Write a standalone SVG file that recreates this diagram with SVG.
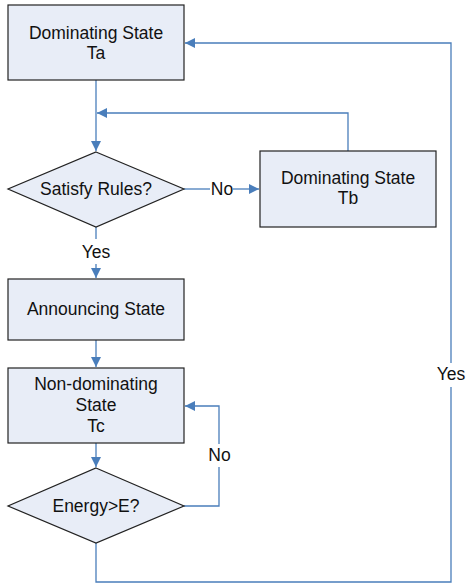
<svg xmlns="http://www.w3.org/2000/svg" width="466" height="587" viewBox="0 0 466 587">
<style>
.box{fill:#e8edf7;stroke:#222;stroke-width:1.2}
.t{font-family:"Liberation Sans",Arial,sans-serif;font-size:17.5px;fill:#111;text-anchor:middle}
.c{fill:none;stroke:#4a7ebb;stroke-width:1.3}
</style>
<defs>
<marker id="ah" markerUnits="userSpaceOnUse" markerWidth="12" markerHeight="12" viewBox="0 0 12 12" refX="11" refY="6" orient="auto">
<path d="M1,1 L11,6 L1,11 Z" fill="#4a7ebb"/>
</marker>
</defs>
<g id="connectors">
<path class="c" d="M96,80 V151" marker-end="url(#ah)"/>
<path class="c" d="M348,151 V113 H97" marker-end="url(#ah)"/>
<path class="c" d="M184,189 H210"/>
<path class="c" d="M233,189 H259" marker-end="url(#ah)"/>
<path class="c" d="M96,227 V239"/>
<path class="c" d="M96,264 V278" marker-end="url(#ah)"/>
<path class="c" d="M96,340 V367" marker-end="url(#ah)"/>
<path class="c" d="M96,443 V467" marker-end="url(#ah)"/>
<path class="c" d="M184,506 H219 V467"/>
<path class="c" d="M219,444 V406 H185" marker-end="url(#ah)"/>
<path class="c" d="M96,543 V582 H451 V387"/>
<path class="c" d="M451,363 V43 H185" marker-end="url(#ah)"/>
<text class="t" x="222" y="195">No</text>
<text class="t" x="96" y="258">Yes</text>
<text class="t" x="219.5" y="461">No</text>
<text class="t" x="451" y="380">Yes</text>
</g>
<g id="ta">
<rect class="box" x="8" y="5" width="176" height="75"/>
<text class="t" x="96" y="39">Dominating State</text>
<text class="t" x="96" y="59">Ta</text>
</g>
<g id="satisfy">
<polygon class="box" points="96,152 184,189 96,227 8,189"/>
<text class="t" x="96" y="195">Satisfy Rules?</text>
</g>
<g id="tb">
<rect class="box" x="260" y="151" width="176" height="76"/>
<text class="t" x="348" y="184">Dominating State</text>
<text class="t" x="348" y="204">Tb</text>
</g>
<g id="announcing">
<rect class="box" x="8" y="279" width="176" height="61"/>
<text class="t" x="96" y="315">Announcing State</text>
</g>
<g id="tc">
<rect class="box" x="8" y="368" width="176" height="75"/>
<text class="t" x="96" y="390">Non-dominating</text>
<text class="t" x="96" y="411">State</text>
<text class="t" x="96" y="432">Tc</text>
</g>
<g id="energy">
<polygon class="box" points="96,468 184,506 96,543 8,506"/>
<text class="t" x="96" y="512">Energy&gt;E?</text>
</g>
</svg>
